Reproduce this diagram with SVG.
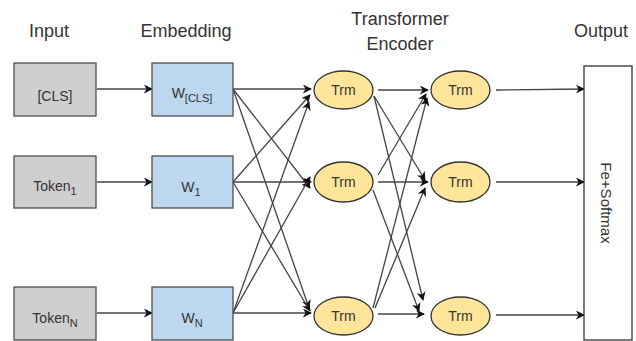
<svg xmlns="http://www.w3.org/2000/svg" width="636" height="341" viewBox="0 0 636 341">
<defs>
<marker id="ah" viewBox="0 0 10 10" refX="9" refY="5" markerWidth="9" markerHeight="9" markerUnits="userSpaceOnUse" orient="auto">
<path d="M0,0 L10,5 L0,10 L3,5 Z" fill="#111"/>
</marker>
<style>
text{font-family:"Liberation Sans",Arial,sans-serif;fill:#333}
.hd{font-size:18px;text-anchor:middle}
.lb{font-size:14px;text-anchor:middle}
.sub{font-size:11px}
.inp{fill:#d0cece;stroke:#4d4d4d;stroke-width:1.3}
.emb{fill:#bdd7ee;stroke:#4d4d4d;stroke-width:1.3}
.trm{fill:#ffe599;stroke:#333;stroke-width:1.3}
.out{fill:#fff;stroke:#333;stroke-width:1.3}
#connectors line{stroke:#444;stroke-width:1.3;marker-end:url(#ah)}
</style>
</defs>
<rect width="636" height="341" fill="#fff"/>

<g id="headers">
<text class="hd" x="49" y="37">Input</text>
<text class="hd" x="186" y="37">Embedding</text>
<text class="hd" x="400" y="25">Transformer</text>
<text class="hd" x="400" y="50">Encoder</text>
<text class="hd" x="601" y="37">Output</text>
</g>

<g id="connectors">
<line x1="97" y1="89" x2="152" y2="89"/>
<line x1="97" y1="182" x2="152" y2="182"/>
<line x1="97" y1="313" x2="152" y2="313"/>

<line x1="233" y1="89" x2="311" y2="89"/>
<line x1="233" y1="89" x2="310" y2="188"/>
<line x1="233" y1="89" x2="309" y2="308"/>
<line x1="233" y1="182" x2="310" y2="95"/>
<line x1="233" y1="182" x2="311" y2="182"/>
<line x1="233" y1="182" x2="310" y2="311"/>
<line x1="233" y1="313" x2="309" y2="102"/>
<line x1="233" y1="313" x2="310" y2="177"/>
<line x1="233" y1="313" x2="311" y2="313"/>

<line x1="378" y1="90" x2="428" y2="90"/>
<line x1="374" y1="96" x2="425" y2="180"/>
<line x1="374" y1="96" x2="423" y2="300"/>
<line x1="378" y1="175" x2="426" y2="94"/>
<line x1="378" y1="182" x2="428" y2="182"/>
<line x1="373" y1="190" x2="419" y2="311"/>
<line x1="373" y1="308" x2="427" y2="98"/>
<line x1="375" y1="308" x2="425" y2="188"/>
<line x1="378" y1="314" x2="424" y2="314"/>

<line x1="496" y1="90" x2="584" y2="89"/>
<line x1="496" y1="182" x2="584" y2="182"/>
<line x1="496" y1="315" x2="584" y2="315"/>
</g>

<g id="input-cls"><rect class="inp" x="14" y="63" width="82" height="53"/><text class="lb" x="55" y="101">[CLS]</text></g>
<g id="input-token1"><rect class="inp" x="14" y="156" width="82" height="52"/><text class="lb" x="55" y="191">Token<tspan class="sub" dy="4">1</tspan></text></g>
<g id="input-tokenN"><rect class="inp" x="14" y="287" width="82" height="53"/><text class="lb" x="55" y="323">Token<tspan class="sub" dy="4">N</tspan></text></g>

<g id="emb-cls"><rect class="emb" x="152" y="63" width="81" height="53"/><text class="lb" x="192" y="98">W<tspan class="sub" dy="4">[CLS]</tspan></text></g>
<g id="emb-1"><rect class="emb" x="152" y="156" width="81" height="52"/><text class="lb" x="191" y="192">W<tspan class="sub" dy="4">1</tspan></text></g>
<g id="emb-N"><rect class="emb" x="152" y="287" width="81" height="53"/><text class="lb" x="192" y="323">W<tspan class="sub" dy="4">N</tspan></text></g>

<g id="trm-1-1"><ellipse class="trm" cx="343.5" cy="90" rx="29.5" ry="19"/><text class="lb" x="343.5" y="95">Trm</text></g>
<g id="trm-1-2"><ellipse class="trm" cx="343.5" cy="182" rx="29.5" ry="20"/><text class="lb" x="343.5" y="187">Trm</text></g>
<g id="trm-1-3"><ellipse class="trm" cx="343.5" cy="316" rx="29.5" ry="19"/><text class="lb" x="343.5" y="321">Trm</text></g>
<g id="trm-2-1"><ellipse class="trm" cx="460.5" cy="90" rx="29.5" ry="19"/><text class="lb" x="460.5" y="95">Trm</text></g>
<g id="trm-2-2"><ellipse class="trm" cx="460.5" cy="182" rx="29.5" ry="20"/><text class="lb" x="460.5" y="187">Trm</text></g>
<g id="trm-2-3"><ellipse class="trm" cx="460.5" cy="316" rx="29.5" ry="19"/><text class="lb" x="460.5" y="321">Trm</text></g>

<g id="output"><rect class="out" x="584" y="66" width="48" height="274"/><text class="lb" style="font-size:15px" transform="translate(601,203) rotate(90)" x="0" y="0">Fe+Softmax</text></g>
</svg>
